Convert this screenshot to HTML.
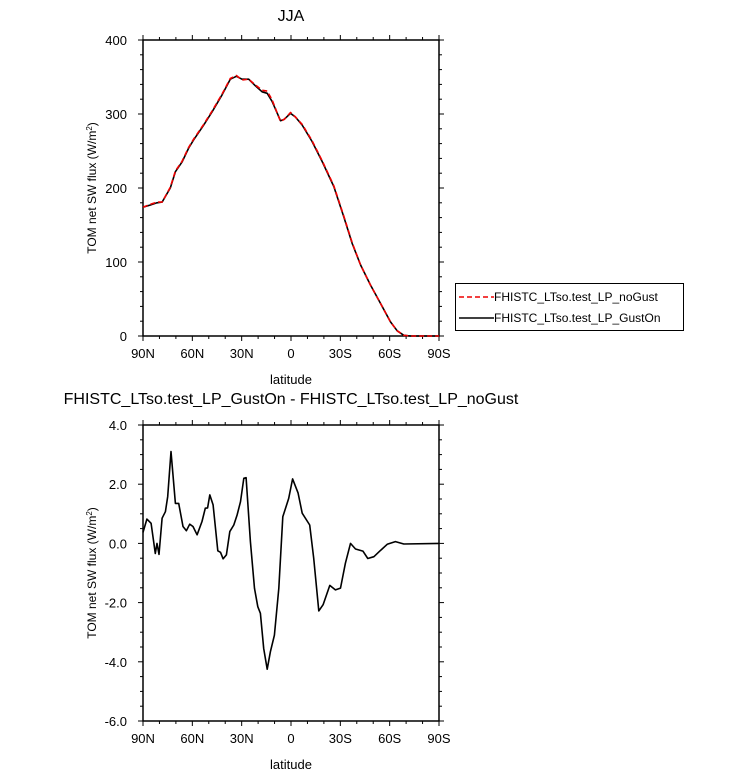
<!DOCTYPE html>
<html><head><meta charset="utf-8"><style>
body{margin:0;background:#fff;}
svg{display:block;font-family:"Liberation Sans",sans-serif;}
</style></head><body>
<svg id="chart" width="732" height="775" viewBox="0 0 732 775" xmlns="http://www.w3.org/2000/svg">
<text x="291" y="21" font-size="16" text-anchor="middle">JJA</text>
<text x="291" y="404" font-size="16" text-anchor="middle">FHISTC_LTso.test_LP_GustOn - FHISTC_LTso.test_LP_noGust</text>
<g>
<rect x="455.5" y="283.5" width="228" height="47" fill="#fff" stroke="#000" stroke-width="1"/>
<line x1="459" y1="297" x2="494" y2="297" stroke="#e00" stroke-width="1.5" stroke-dasharray="5,3"/>
<text x="494" y="301" font-size="12">FHISTC_LTso.test_LP_noGust</text>
<line x1="459" y1="318" x2="494" y2="318" stroke="#000" stroke-width="1.5"/>
<text x="494" y="322" font-size="12">FHISTC_LTso.test_LP_GustOn</text>
</g>
</svg>
<script>
const latTop = [90,85.5,81.5,78.4,73.4,70.3,66.3,62.2,59.2,53.1,48,41.9,36.9,33.2,29.8,25.7,21.6,17.6,14.5,11.5,6.4,4,0.3,-2.7,-6.8,-12.8,-18.9,-26,-32.1,-37.2,-42.3,-48.3,-54.4,-60.5,-64.6,-68.6,-72.7,-90];
const gustOn = [174,177,180,181,200,222,235,254,265,285,303,326,347,351,347,347,338,330,328,317,291,293,301,296,285,263,236,202,161,125,96,69,44,19,7,1,0,0];
const noGust = [174,178,181,181,201,223,236,255,266,286,304,327,348,352,346,347,339,332,331,319,290,293,302,296,286,264,237,203,162,126,96,69,44,19,7,1,0,0];
const latBot = [90,87.6,85.1,82.5,81.5,80.3,78.4,76.4,75,73,70.3,68.3,65.7,63.6,61.6,59.6,57.1,54.1,52.1,50.7,49.4,47.4,44.5,42.9,41.3,39.3,37.2,34.8,32.8,30.7,28.7,27.3,24.7,22.2,20.2,18.6,16.6,14.5,12.5,10.1,7.4,5,1.4,-1,-4.3,-6.8,-11.4,-13.8,-16.9,-19.5,-23.6,-27,-30.1,-33.1,-36.2,-39.2,-43.7,-46.7,-50.4,-54,-58.5,-63.5,-68.6,-90];
const diffVals = [0.37,0.82,0.68,-0.34,0,-0.37,0.85,1.07,1.58,3.1,1.35,1.35,0.57,0.43,0.65,0.57,0.29,0.74,1.19,1.2,1.64,1.3,-0.25,-0.3,-0.52,-0.39,0.4,0.62,0.96,1.41,2.2,2.22,0.06,-1.52,-2.14,-2.36,-3.55,-4.25,-3.66,-3.1,-1.52,0.9,1.52,2.18,1.7,1.02,0.62,-0.5,-2.28,-2.07,-1.42,-1.57,-1.51,-0.67,0,-0.19,-0.26,-0.51,-0.45,-0.26,-0.03,0.06,-0.02,0];
const xTickVals = [90,60,30,0,-30,-60,-90];
const xTickLabels = ["90N","60N","30N","0","30S","60S","90S"];
const topYTicks = [0,100,200,300,400];
const topYLabels = ["0","100","200","300","400"];
const botYTicks = [-6,-4,-2,0,2,4];
const botYLabels = ["-6.0","-4.0","-2.0","0.0","2.0","4.0"];

const svg = document.getElementById('chart');
const NS = 'http://www.w3.org/2000/svg';
function mk(tag, attrs){const e=document.createElementNS(NS,tag);for(const k in attrs)e.setAttribute(k,attrs[k]);return e;}
const X0=143,X1=439;
function xs(lat){return X0+(90-lat)/180*(X1-X0);}

function panel(name, top, bottom, ymin, ymax, yt, yl, minorStep){
  const ys=v=>bottom-(v-ymin)/(ymax-ymin)*(bottom-top);
  const g=mk('g',{});
  
  
  svg.appendChild(g);
  const fr=mk('rect',{x:X0,y:top,width:X1-X0,height:bottom-top,fill:'none',stroke:'#000','stroke-width':1.5});
  
  
  g.appendChild(fr);
  for(let lat=90;lat>=-90;lat-=10){
    const major = lat%30===0; const L=major?5:3; const x=xs(lat);
    g.appendChild(mk('line',{x1:x,x2:x,y1:bottom,y2:bottom+L,stroke:'#000','stroke-width':1}));
    g.appendChild(mk('line',{x1:x,x2:x,y1:top,y2:top-L,stroke:'#000','stroke-width':1}));
  }
  for(let v=ymin;v<=ymax+1e-9;v+=minorStep){
    const y=ys(v); const major=yt.some(t=>Math.abs(t-v)<1e-6); const L=major?5:3;
    g.appendChild(mk('line',{x1:X0-L,x2:X0,y1:y,y2:y,stroke:'#000','stroke-width':1}));
    g.appendChild(mk('line',{x1:X1,x2:X1+L,y1:y,y2:y,stroke:'#000','stroke-width':1}));
  }
  xTickVals.forEach((v,i)=>{
    const t=mk('text',{x:xs(v),y:bottom+22,'font-size':13,'text-anchor':'middle'});
    t.textContent=xTickLabels[i];
    
    
    g.appendChild(t);
  });
  yt.forEach((v,i)=>{
    const t=mk('text',{x:X0-16,y:ys(v)+5,'font-size':13,'text-anchor':'end'});
    t.textContent=yl[i];
    
    
    g.appendChild(t);
  });
  const xt=mk('text',{x:291,y:bottom+48,'font-size':13,'text-anchor':'middle'});
  xt.textContent='latitude';
  
  
  g.appendChild(xt);
  const cy=(top+bottom)/2;
  const yT=mk('text',{x:96,y:cy,'font-size':12,'text-anchor':'middle',transform:'rotate(-90 96 '+cy+')'});
  yT.innerHTML='TOM net SW flux (W/m<tspan baseline-shift="super" font-size="8">2</tspan>)';
  
  
  g.appendChild(yT);
  return {g,ys};
}
function line(p, lats, vals, color, dash, nm){
  const pts=lats.map((l,i)=>xs(l).toFixed(1)+','+p.ys(vals[i]).toFixed(1)).join(' ');
  const pl=mk('polyline',{points:pts,fill:'none',stroke:color,'stroke-width':1.6,'stroke-linejoin':'round'});
  if(dash) pl.setAttribute('stroke-dasharray',dash);
  
  
  p.g.appendChild(pl);
}
const pt=panel('top-panel',40,336,0,400,topYTicks,topYLabels,20);
line(pt,latTop,gustOn,'#000',null,'line-guston');
line(pt,latTop,noGust,'#e00','5,3','line-nogust');
const pb=panel('bottom-panel',425,721,-6,4,botYTicks,botYLabels,0.5);
line(pb,latBot,diffVals,'#000',null,'line-difference');
</script>
</body></html>
